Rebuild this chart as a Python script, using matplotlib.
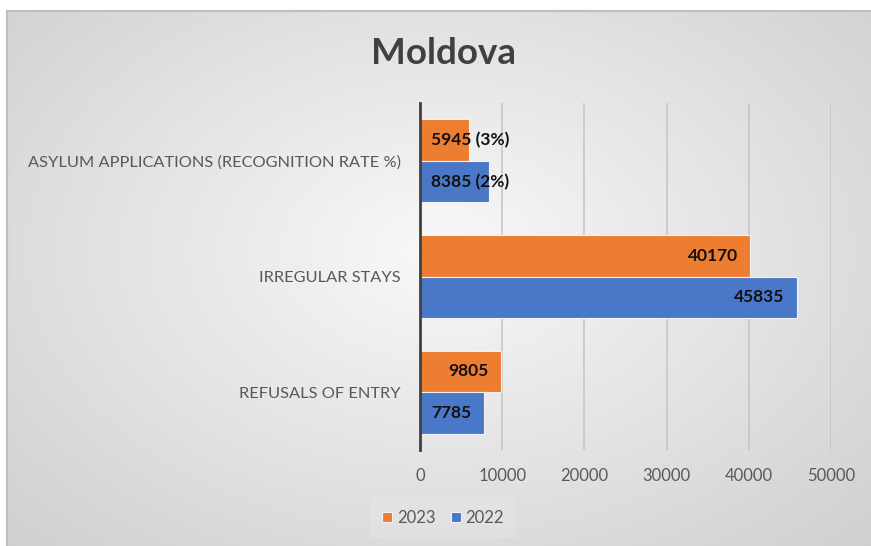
import numpy as np
import matplotlib
matplotlib.use('Agg')
import matplotlib.pyplot as plt

categories = ['REFUSALS OF ENTRY', 'IRREGULAR STAYS', 'ASYLUM APPLICATIONS (RECOGNITION RATE %)']
values_2023 = [9805, 40170, 5945]
values_2022 = [7785, 45835, 8385]
rates_2023 = ['', '', '(3%)']
rates_2022 = ['', '', '(2%)']
xticks = [0, 10000, 20000, 30000, 40000, 50000]

plt.rcParams['font.family'] = ['Lato', 'DejaVu Sans']

orange = '#ED7D31'
blue = '#4a78c8'
grey_txt = '#595959'

fig = plt.figure(figsize=(8.71, 5.46), dpi=100)

# background panel with a soft radial gradient
bg = fig.add_axes([7 / 871, 0, 1 - 7 / 871, (546 - 11) / 546], zorder=-5)
gx, gy = np.meshgrid(np.linspace(0, 1, 300), np.linspace(0, 1, 200))
r = np.sqrt(((gx - 0.5) / 0.5) ** 2 + ((gy - 0.45) / 0.55) ** 2) / np.sqrt(2)
shade = np.clip(0.975 - 0.16 * r, 0, 1)
bg.imshow(np.dstack([shade] * 3), extent=[0, 1, 0, 1], aspect='auto', origin='upper')
bg.set_xlim(0, 1)
bg.set_ylim(0, 1)
bg.set_xticks([])
bg.set_yticks([])
for side in ['right', 'bottom']:
    bg.spines[side].set_visible(False)
for side in ['top', 'left']:
    bg.spines[side].set_color('#bfbfbf')
    bg.spines[side].set_linewidth(1.5)

ax = fig.add_axes([420 / 871, 1 - 450 / 546, (831 - 420) / 871, (450 - 103) / 546])
ax.patch.set_alpha(0)

y = np.arange(len(categories))
h = 0.36
ax.barh(y + 0.18, values_2023, height=h, color=orange, edgecolor='#f3f3f3', linewidth=0.8, label='2023', zorder=3)
ax.barh(y - 0.18, values_2022, height=h, color=blue, edgecolor='#f3f3f3', linewidth=0.8, label='2022', zorder=3)

# value labels
for vals, rates, off in [(values_2023, rates_2023, 0.18), (values_2022, rates_2022, -0.18)]:
    for i, (v, rt) in enumerate(zip(vals, rates)):
        if rt:
            ax.annotate(f'{v} {rt}', xy=(0, i + off), xytext=(8, 0), textcoords='offset points',
                        ha='left', va='center', fontsize=12.5, fontweight='bold', color='#111111', zorder=4)
        else:
            ax.annotate(f'{v}', xy=(v, i + off), xytext=(-9, 0), textcoords='offset points',
                        ha='right', va='center', fontsize=12.5, fontweight='bold', color='#111111', zorder=4)

ax.set_xlim(0, 50000)
ax.set_ylim(-0.5, 2.5)
ax.set_xticks(xticks)
ax.set_xticklabels([str(t) for t in xticks])
ax.set_yticks(y)
ax.set_yticklabels(categories)
ax.tick_params(axis='x', length=0, pad=13, labelsize=12, labelcolor=grey_txt)
ax.tick_params(axis='y', length=0, pad=14, labelsize=11.8, labelcolor=grey_txt)
ax.grid(axis='x', color='#c4c4c4', linewidth=1.1, zorder=0)
for side in ['top', 'right', 'bottom']:
    ax.spines[side].set_visible(False)
ax.spines['left'].set_color('#404040')
ax.spines['left'].set_linewidth(2)
ax.spines['left'].set_zorder(5)

fig.text(443 / 871, 1 - 53 / 546, 'Moldova', ha='center', va='center', fontsize=26.5,
         fontweight='bold', color='#404040')

handles, labels = ax.get_legend_handles_labels()
leg = fig.legend(handles, labels, loc='center', bbox_to_anchor=(443 / 871, 1 - 518 / 546), ncol=2,
                 frameon=True, fontsize=12, handlelength=0.6, handleheight=0.6, handletextpad=0.3,
                 columnspacing=0.9, labelcolor=grey_txt)
leg.get_frame().set_facecolor('white')
leg.get_frame().set_alpha(0.12)
leg.get_frame().set_edgecolor('none')
leg.get_frame().set_boxstyle('square')

fig.savefig('out.png', dpi=100)
